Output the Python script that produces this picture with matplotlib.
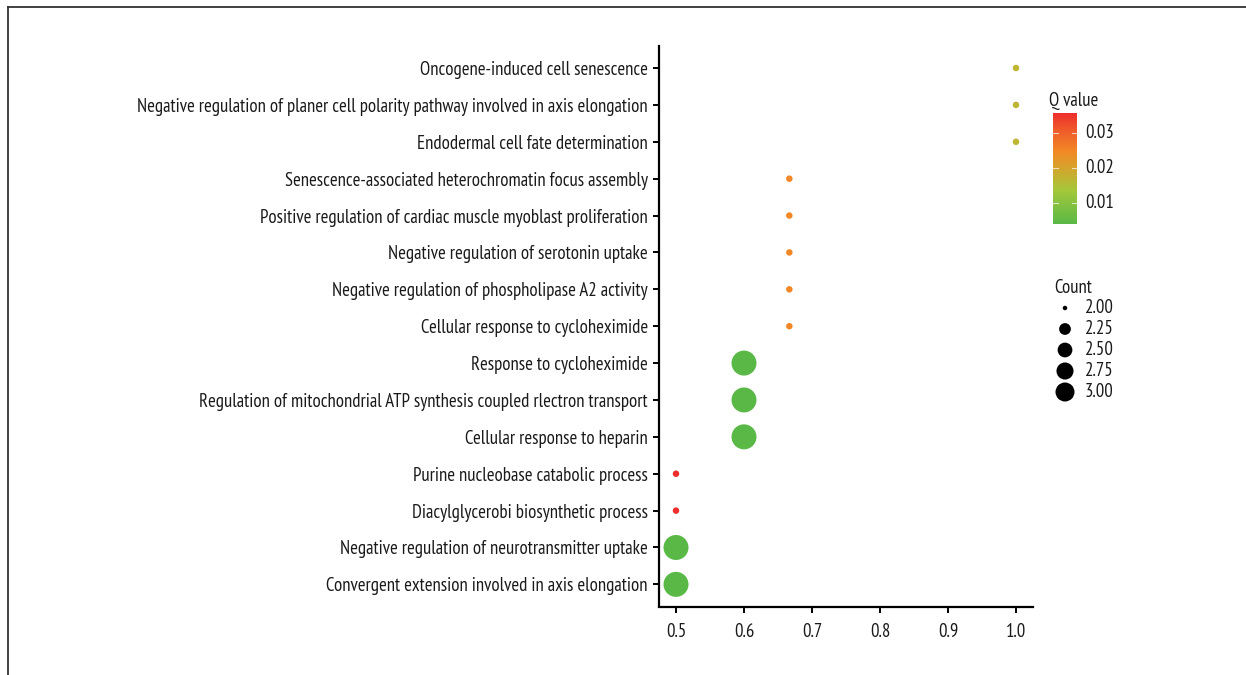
import numpy as np
import matplotlib
matplotlib.use("Agg")
import matplotlib.pyplot as plt
from matplotlib.colors import LinearSegmentedColormap, Normalize
from matplotlib.lines import Line2D

plt.rcParams["font.family"] = ["PT Sans Narrow", "DejaVu Sans"]

# ---------------------------------------------------------
# GO terms (top to bottom) dan nilai enrichment
# ---------------------------------------------------------
terms = [
    "Oncogene-induced cell senescence",
    "Negative regulation of planer cell polarity pathway involved in axis elongation",
    "Endodermal cell fate determination",
    "Senescence-associated heterochromatin focus assembly",
    "Positive regulation of cardiac muscle myoblast proliferation",
    "Negative regulation of serotonin uptake",
    "Negative regulation of phospholipase A2 activity",
    "Cellular response to cycloheximide",
    "Response to cycloheximide",
    "Regulation of mitochondrial ATP synthesis coupled rlectron transport",
    "Cellular response to heparin",
    "Purine nucleobase catabolic process",
    "Diacylglycerobi biosynthetic process",
    "Negative regulation of neurotransmitter uptake",
    "Convergent extension involved in axis elongation",
]
ratio = [1.0, 1.0, 1.0, 2/3, 2/3, 2/3, 2/3, 2/3, 0.6, 0.6, 0.6, 0.5, 0.5, 0.5, 0.5]
count = [2, 2, 2, 2, 2, 2, 2, 2, 3, 3, 3, 2, 2, 3, 3]
qvalue = [0.017, 0.017, 0.017, 0.025, 0.025, 0.025, 0.025, 0.025,
          0.004, 0.004, 0.004, 0.0357, 0.0357, 0.004, 0.004]

x_ticks = [0.5, 0.6, 0.7, 0.8, 0.9, 1.0]
q_ticks = [0.01, 0.02, 0.03]
count_breaks = [2.00, 2.25, 2.50, 2.75, 3.00]

W, H, DPI = 1246, 675, 100
PX = 72.0 / DPI  # 1 px dalam point
FS = 13.5
TXT = "#1a1a1a"

cmap = LinearSegmentedColormap.from_list("qv", [
    (0.00, "#5ab946"),
    (0.30, "#a4c83c"),
    (0.50, "#d4a52c"),
    (0.65, "#f28a26"),
    (0.85, "#f05a2a"),
    (1.00, "#ee2e2e"),
])
norm = Normalize(vmin=min(qvalue), vmax=max(qvalue))


def dot_area(c, dmin, dmax):
    # skala luas seperti scale_size (akar dari nilai yang di-rescale)
    lo, hi = min(count_breaks), max(count_breaks)
    t = np.sqrt((np.asarray(c, float) - lo) / (hi - lo))
    d = dmin + (dmax - dmin) * t
    return (d * PX) ** 2


fig = plt.figure(figsize=(W / DPI, H / DPI), dpi=DPI)


def fx(px):
    return px / W


def fy(py):
    return 1 - py / H


# ---------------------------------------------------------
# Plot utama
# ---------------------------------------------------------
ax = fig.add_axes([fx(659), fy(606.5), fx(1033 - 659), (606.5 - 45.9) / H])
ypos = np.arange(len(terms))[::-1]
ax.scatter(ratio, ypos, s=dot_area(count, 6.5, 25), c=qvalue, cmap=cmap,
           norm=norm, edgecolors="none", zorder=3)
ax.set_xlim(0.475, 1.025)
ax.set_ylim(-0.6, len(terms) - 0.4)
ax.set_yticks(ypos)
ax.set_yticklabels(terms, fontsize=FS, color=TXT)
ax.set_xticks(x_ticks)
ax.set_xticklabels([f"{v:.1f}" for v in x_ticks], fontsize=FS, color=TXT)
for s in ["top", "right"]:
    ax.spines[s].set_visible(False)
for s in ["left", "bottom"]:
    ax.spines[s].set_linewidth(1.6)
ax.tick_params(axis="both", direction="out", length=4, width=1.4, pad=4)
ax.tick_params(axis="x", pad=8)

# ---------------------------------------------------------
# Colorbar Q value
# ---------------------------------------------------------
cax = fig.add_axes([fx(1053), fy(224), fx(1077 - 1053), (224 - 113) / H])
grad = np.linspace(norm.vmin, norm.vmax, 256).reshape(-1, 1)
cax.imshow(grad, aspect="auto", origin="lower", cmap=cmap, norm=norm,
           extent=[0, 1, norm.vmin, norm.vmax])
cax.set_xticks([])
cax.set_yticks([])
for s in cax.spines.values():
    s.set_visible(False)
for q in q_ticks:
    cax.plot([0, 0.2], [q, q], color="white", lw=0.8, alpha=0.7)
    cax.plot([0.8, 1], [q, q], color="white", lw=0.8, alpha=0.7)
    cax.text(1.35, q, f"{q:.2f}", transform=cax.get_yaxis_transform(),
             va="center", ha="left", fontsize=FS, color=TXT)
cax.set_xlim(0, 1)
cax.set_ylim(norm.vmin, norm.vmax)
fig.text(fx(1049), fy(110), "Q value", fontsize=FS, va="bottom", ha="left",
         color=TXT)

# ---------------------------------------------------------
# Legend ukuran (Count)
# ---------------------------------------------------------
fig.text(fx(1054), fy(297), "Count", fontsize=FS, va="bottom", ha="left",
         color=TXT)
lax = fig.add_axes([0, 0, 1, 1], facecolor="none")
lax.set_xlim(0, W)
lax.set_ylim(H, 0)
lax.axis("off")
leg_y = [308 + 21 * i for i in range(len(count_breaks))]
lax.scatter([1065] * len(count_breaks), leg_y,
            s=dot_area(count_breaks, 4.5, 19), c="black", edgecolors="none")
for yy, cb in zip(leg_y, count_breaks):
    lax.text(1085, yy, f"{cb:.2f}", va="center", ha="left", fontsize=FS,
             color=TXT)

# bingkai kiri dan atas
lax.add_line(Line2D([8, 8], [7, H], color="#333333", lw=1.3))
lax.add_line(Line2D([8, W], [7, 7], color="#333333", lw=1.3))

fig.savefig("out.png", dpi=DPI)
